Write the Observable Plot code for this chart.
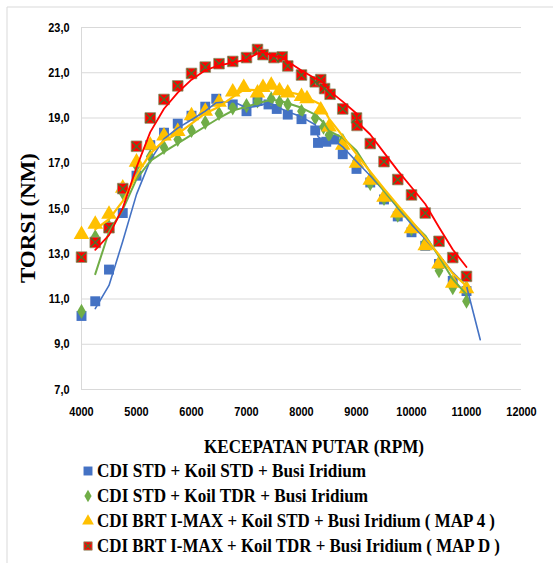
<!DOCTYPE html>
<html><head><meta charset="utf-8">
<script src="https://cdn.jsdelivr.net/npm/d3@7"></script>
<script src="https://cdn.jsdelivr.net/npm/@observablehq/plot@0.6"></script>
<style>
body{margin:0;background:#fff}
#chart{position:relative;width:553px;height:563px;overflow:hidden}
</style>
</head><body><div id="chart"></div>
<script>
// ---- data ----
const seriesNames = [
  "CDI STD + Koil STD + Busi Iridium",
  "CDI STD + Koil TDR + Busi Iridium",
  "CDI BRT I-MAX + Koil STD + Busi Iridium ( MAP 4 )",
  "CDI BRT I-MAX + Koil TDR + Busi Iridium ( MAP D )"
];
const xTicks = [4000,5000,6000,7000,8000,9000,10000,11000,12000];
const yTicks = [7,9,11,13,15,17,19,21,23];
const xTitle = "KECEPATAN PUTAR (RPM)";
const yTitle = "TORSI (NM)";

const blueRpm = [4000,4250,4500,4750,5000,5250,5500,5750,6000,6250,6450,6750,7000,7200,7400,7550,7750,8000,8250,8300,8450,8600,8750,9000,9250,9500,9750,10000,10250,10500,10750,11000];
const blueTorque = [10.25,10.9,12.3,14.8,16.45,17.8,18.35,18.75,19.1,19.5,19.85,19.6,19.3,19.75,19.6,19.4,19.15,18.95,18.45,17.9,17.95,18.05,17.4,16.75,16.15,15.4,14.65,13.95,13.35,12.55,11.8,11.35];
const blueTrendTail = [[11250, 9.2]];

const greenRpm = [4000,4250,4500,4750,5000,5250,5500,5750,6000,6250,6500,6750,7000,7200,7450,7600,7750,8000,8250,8400,8500,8750,9000,9250,9500,9750,10000,10250,10500,10750,11000];
const greenTorque = [10.45,13.75,14.2,15.7,16.9,17.3,17.7,18.05,18.45,18.8,19.2,19.45,19.55,19.75,19.85,19.7,19.6,19.3,19.0,18.6,18.25,18.0,17.1,16.1,15.45,14.7,14.1,13.5,12.25,11.5,10.9];

const yellowRpm = [4000,4250,4500,4750,5000,5250,5500,5750,6000,6250,6500,6750,6950,7200,7300,7450,7600,7750,8000,8100,8350,8500,8750,9000,9250,9500,9750,10000,10250,10500,10750,11000];
const yellowTorque = [13.85,14.3,14.75,15.9,17.05,17.8,18.2,18.4,19.1,19.3,19.7,20.15,20.35,20.1,20.35,20.45,20.2,20.1,19.95,19.85,19.35,18.6,17.8,17.0,16.25,15.5,14.8,14.1,13.35,12.55,11.7,11.45];

const redRpm = [4000,4250,4500,4750,5000,5250,5500,5750,6000,6250,6500,6750,7000,7200,7300,7500,7650,7750,8000,8250,8350,8420,8520,8750,9000,9010,9250,9500,9750,10000,10250,10500,10750,11000];
const redTorque = [12.85,13.5,14.15,15.88,17.75,19.0,19.82,20.42,20.97,21.25,21.4,21.5,21.67,22.03,21.8,21.67,21.7,21.3,20.9,20.6,20.7,20.3,20.05,19.4,19.0,18.67,17.87,17.07,16.28,15.6,14.8,13.55,12.83,12.0];

const colors = ["#4472C4","#70AD47","#FFC000","#FF0000"];

// ---- build ----
const pts = (r, t) => r.map((x, i) => ({rpm: x, torque: t[i]}));
// Excel-style 2-period moving-average trendline
const ma2 = (p) => p.slice(1).map((d, i) => ({rpm: d.rpm, torque: (p[i].torque + d.torque) / 2}));

const blue = pts(blueRpm, blueTorque);
const green = pts(greenRpm, greenTorque);
const yellow = pts(yellowRpm, yellowTorque);
const red = pts(redRpm, redTorque);

const blueTrend = ma2(blue).concat(blueTrendTail.map(([x, y]) => ({rpm: x, torque: y})));
const greenTrend = ma2(green);
const yellowTrend = ma2(yellow);
const redTrend = ma2(red);

const tickFont = "'Liberation Sans',Arial,sans-serif";
const serif = "'Liberation Serif','Times New Roman',serif";

const plot = Plot.plot({
  width: 553, height: 563,
  marginLeft: 81, marginRight: 32, marginTop: 27, marginBottom: 174,
  style: {fontFamily: tickFont, fontSize: "13px", fontWeight: "bold", color: "#000", background: "#fff"},
  x: {domain: [4000, 12000], ticks: xTicks, tickSize: 0, tickPadding: 17, tickFormat: d => String(d), label: null},
  y: {domain: [7, 23], ticks: yTicks, tickSize: 0, tickPadding: 12, tickFormat: d => d.toFixed(1).replace(".", ","), label: null},
  marks: [
    Plot.gridY(yTicks, {stroke: "#d9d9d9", strokeOpacity: 1, strokeWidth: 1}),
    Plot.ruleX([4000], {stroke: "#d9d9d9", strokeWidth: 1}),
    // markers
    Plot.dot(blue, {x: "rpm", y: "torque", symbol: "square", r: 5.6, fill: colors[0], stroke: "none"}),
    Plot.dot(green, {x: "rpm", y: "torque", symbol: "diamond", r: 4.6, fill: colors[1], stroke: "none"}),
    Plot.dot(yellow, {x: "rpm", y: "torque", symbol: "triangle", r: 5.8, fill: colors[2], stroke: "none"}),
    Plot.dot(red, {x: "rpm", y: "torque", symbol: "square", r: 6, fill: colors[3], stroke: "#8c9a72", strokeWidth: 0.8}),
    Plot.dot(red, {x: "rpm", y: "torque", symbol: "times", r: 4.3, stroke: "#4f6f2a", strokeWidth: 1.4}),
    // trendlines
    Plot.line(blueTrend, {x: "rpm", y: "torque", stroke: colors[0], strokeWidth: 1.6}),
    Plot.line(greenTrend, {x: "rpm", y: "torque", stroke: colors[1], strokeWidth: 2}),
    Plot.line(yellowTrend, {x: "rpm", y: "torque", stroke: colors[2], strokeWidth: 2.2}),
    Plot.line(redTrend, {x: "rpm", y: "torque", stroke: colors[3], strokeWidth: 1.8})
  ]
});

document.getElementById("chart").appendChild(plot);

const svg = d3.select(plot);

// condense tick labels (the reference uses a narrow bold face)
svg.selectAll('g[aria-label="x-axis tick label"] text, g[aria-label="y-axis tick label"] text').each(function () {
  const w = this.getComputedTextLength();
  if (w > 0) d3.select(this).attr("textLength", w * 0.84).attr("lengthAdjust", "spacingAndGlyphs");
});

// chart-area border (top and left visible in the reference)
svg.insert("path", ":first-child")
  .attr("d", "M7,570V7H560").attr("fill", "none").attr("stroke", "#d9d9d9").attr("stroke-width", 1);

// y-axis title
svg.append("text")
  .attr("transform", "translate(28,218) rotate(-90)")
  .attr("text-anchor", "middle").attr("dominant-baseline", "central")
  .attr("font-family", serif).attr("font-size", 20).attr("font-weight", "bold")
  .attr("textLength", 130).attr("lengthAdjust", "spacingAndGlyphs")
  .text(yTitle);

// x-axis title
svg.append("text")
  .attr("x", 314).attr("y", 447)
  .attr("text-anchor", "middle").attr("dominant-baseline", "central")
  .attr("font-family", serif).attr("font-size", 18).attr("font-weight", "bold")
  .attr("textLength", 220).attr("lengthAdjust", "spacingAndGlyphs")
  .text(xTitle);

// legend
const legendY = [471, 496, 521, 546];
const legendW = [269, 271, 398, 403];
const symbols = [d3.symbolSquare, d3.symbolDiamond, d3.symbolTriangle, d3.symbolSquare];
const symSize = [80, 45, 60, 70];
seriesNames.forEach((name, i) => {
  const g = svg.append("g").attr("transform", `translate(88,${legendY[i]})`);
  g.append("path").attr("d", d3.symbol(symbols[i], symSize[i])())
    .attr("fill", colors[i]).attr("stroke", i === 3 ? "#8c9a72" : "none").attr("stroke-width", 0.8);
  if (i === 3) {
    g.append("path").attr("d", "M-3,-3L3,3M-3,3L3,-3").attr("stroke", "#4f6f2a").attr("stroke-width", 1.2);
  }
  g.append("text").attr("x", 9).attr("y", 0)
    .attr("text-anchor", "start")
    .attr("dominant-baseline", "central")
    .attr("font-family", serif).attr("font-size", 18).attr("font-weight", "bold")
    .attr("textLength", legendW[i]).attr("lengthAdjust", "spacingAndGlyphs")
    .text(name);
});
</script>
</body></html>
